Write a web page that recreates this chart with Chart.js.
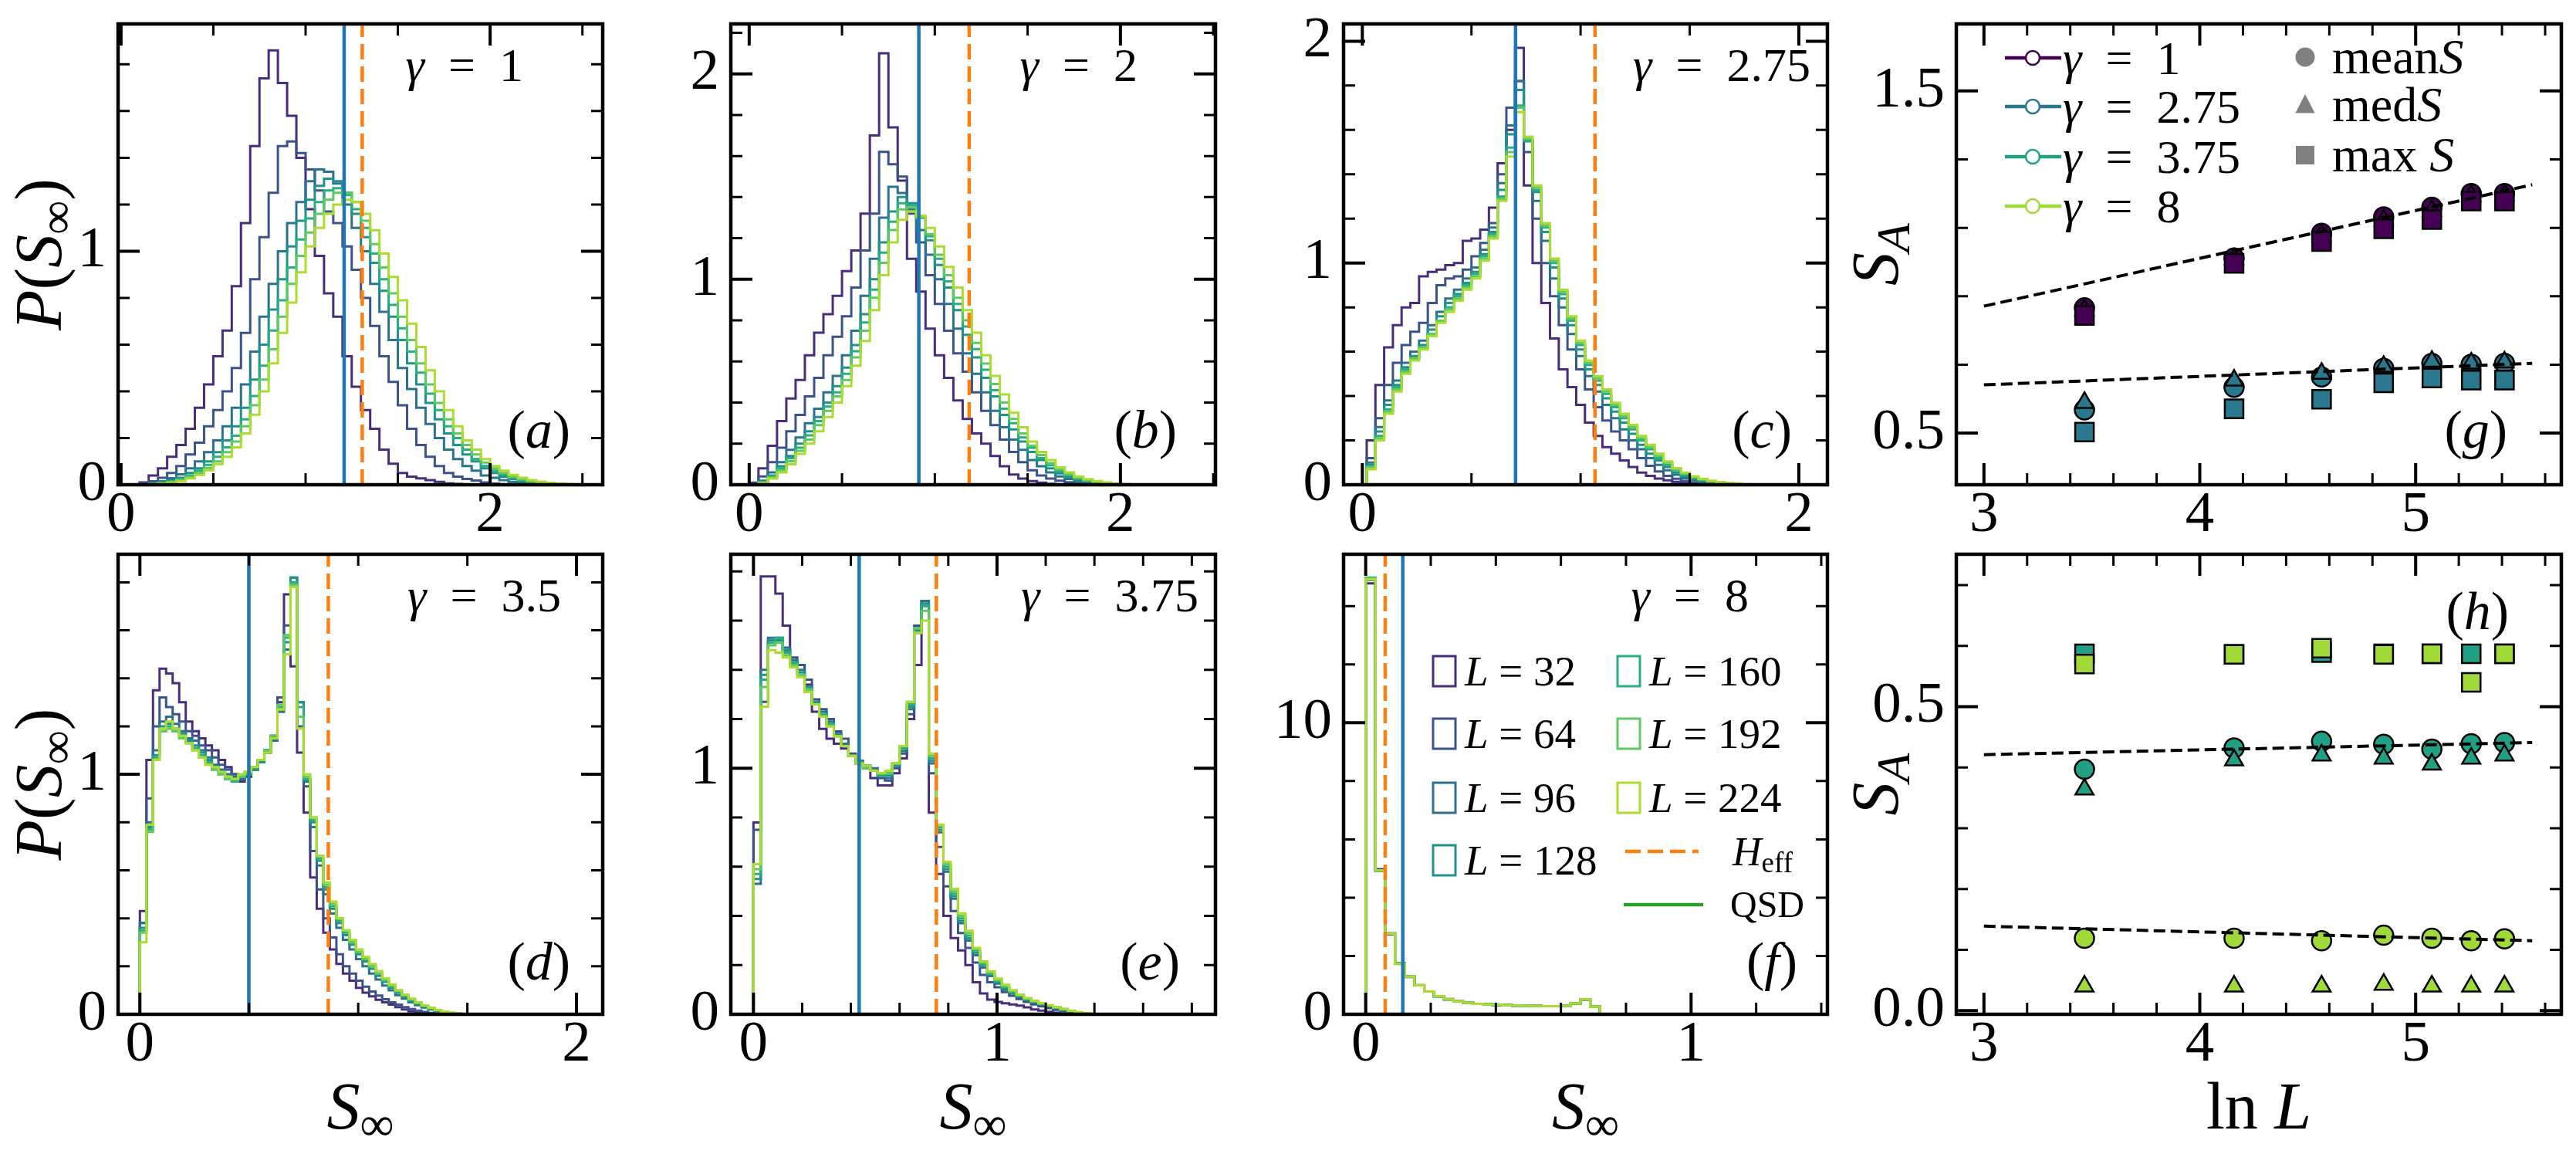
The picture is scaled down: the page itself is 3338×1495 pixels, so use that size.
<!DOCTYPE html>
<html>
<head>
<meta charset="utf-8">
<title>P(S_inf) histograms and S_A scaling</title>
<script src="https://cdn.jsdelivr.net/npm/chart.js@4.4.1/dist/chart.umd.min.js"></script>
<style>
  html, body { margin: 0; padding: 0; background: #fff; }
  #fig { position: relative; width: 3338px; height: 1495px; overflow: hidden; background: #fff; }
  #fig canvas { position: absolute; }
</style>
</head>
<body>
<div id="fig"></div>
<script>
// ---------- data ----------
const sizes = [32, 64, 96, 128, 160, 192, 224];
const gammas = ["1", "2", "2.75", "3.5", "3.75", "8"];

// histogram bins of panels (a)-(f): first edge and bin width
const histStart = [0.10, 0.00, 0.02, 0.00, 0.00, 0.00];
const histWidth = [0.05, 0.05, 0.04, 0.03, 0.03, 0.03];

// vertical markers in (a)-(f)
const blueLineX = [1.209, 0.914, 0.702, 0.499, 0.434, 0.114];
const heffLineX = [1.307, 1.185, 1.066, 0.863, 0.751, 0.060];

// P(S_inf), one row per L (32 ... 224)
const histA = [
  [0.01,0.04,0.07,0.12,0.17,0.24,0.33,0.43,0.55,0.66,0.85,1.12,1.45,1.74,1.86,1.72,1.58,1.40,1.18,0.98,0.82,0.72,0.55,0.42,0.32,0.24,0.15,0.09,0.05,0.035,0.027,0.02,0.012,0.006,0.003],
  [0.005,0.015,0.03,0.05,0.08,0.13,0.18,0.25,0.32,0.40,0.50,0.65,0.88,1.06,1.25,1.45,1.47,1.42,1.35,1.26,1.17,1.12,1.02,0.92,0.80,0.68,0.55,0.44,0.34,0.24,0.17,0.12,0.08,0.05,0.035,0.025,0.018,0.01,0.005],
  [0.003,0.008,0.015,0.028,0.045,0.07,0.10,0.14,0.19,0.25,0.33,0.43,0.57,0.72,0.86,1.00,1.12,1.21,1.30,1.35,1.34,1.29,1.20,1.10,1.00,0.86,0.74,0.62,0.50,0.41,0.33,0.26,0.20,0.15,0.11,0.08,0.06,0.04,0.03,0.02,0.012,0.007,0.004],
  [0.002,0.005,0.01,0.018,0.03,0.05,0.07,0.10,0.14,0.19,0.25,0.33,0.45,0.60,0.75,0.88,1.02,1.13,1.22,1.28,1.31,1.30,1.25,1.16,1.06,0.95,0.83,0.72,0.62,0.52,0.43,0.35,0.28,0.22,0.17,0.13,0.10,0.07,0.05,0.035,0.025,0.015,0.01,0.006,0.003],
  [0.001,0.004,0.008,0.014,0.024,0.04,0.06,0.085,0.12,0.16,0.21,0.28,0.38,0.51,0.66,0.79,0.93,1.05,1.14,1.21,1.26,1.27,1.24,1.18,1.10,0.99,0.88,0.77,0.67,0.57,0.48,0.39,0.32,0.25,0.20,0.15,0.11,0.08,0.06,0.045,0.03,0.02,0.013,0.008,0.005,0.002],
  [0.001,0.003,0.006,0.011,0.02,0.033,0.05,0.072,0.10,0.14,0.185,0.25,0.34,0.45,0.58,0.72,0.86,0.98,1.08,1.16,1.22,1.25,1.25,1.21,1.13,1.03,0.93,0.82,0.72,0.62,0.52,0.43,0.35,0.28,0.22,0.17,0.13,0.095,0.07,0.05,0.035,0.024,0.016,0.01,0.006,0.003,0.001],
  [0.001,0.002,0.005,0.009,0.016,0.027,0.042,0.062,0.088,0.12,0.16,0.22,0.30,0.40,0.52,0.65,0.78,0.91,1.02,1.10,1.16,1.20,1.22,1.21,1.16,1.09,0.99,0.89,0.79,0.69,0.59,0.49,0.40,0.32,0.25,0.19,0.15,0.11,0.08,0.06,0.042,0.03,0.02,0.013,0.008,0.005,0.003,0.001]
];
const histB = [
  [0.01,0.08,0.19,0.31,0.42,0.51,0.63,0.74,0.83,0.92,1.04,1.14,1.32,1.70,2.10,1.74,1.48,1.10,0.94,0.76,0.63,0.52,0.41,0.32,0.25,0.20,0.14,0.09,0.05,0.03,0.018,0.01,0.005,0.002],
  [0.005,0.04,0.11,0.18,0.26,0.34,0.43,0.52,0.63,0.72,0.82,0.96,1.14,1.32,1.62,1.56,1.50,1.32,1.18,1.02,0.88,0.75,0.64,0.55,0.45,0.36,0.29,0.22,0.16,0.11,0.07,0.045,0.03,0.02,0.012,0.007,0.004,0.002],
  [0.003,0.02,0.06,0.11,0.17,0.23,0.30,0.37,0.45,0.53,0.63,0.75,0.92,1.10,1.30,1.45,1.42,1.34,1.24,1.12,1.00,0.88,0.76,0.64,0.54,0.45,0.36,0.28,0.22,0.17,0.12,0.09,0.06,0.04,0.028,0.018,0.012,0.007,0.004,0.002],
  [0.002,0.015,0.045,0.09,0.14,0.20,0.26,0.33,0.40,0.48,0.57,0.68,0.83,1.00,1.18,1.33,1.40,1.37,1.30,1.19,1.07,0.96,0.85,0.73,0.62,0.52,0.43,0.34,0.27,0.21,0.16,0.12,0.08,0.055,0.038,0.025,0.016,0.01,0.006,0.003,0.001],
  [0.002,0.012,0.04,0.08,0.13,0.18,0.24,0.31,0.38,0.45,0.54,0.65,0.79,0.95,1.13,1.28,1.37,1.36,1.30,1.21,1.10,0.99,0.88,0.77,0.66,0.56,0.46,0.37,0.30,0.23,0.18,0.13,0.095,0.066,0.046,0.03,0.02,0.013,0.008,0.004,0.002],
  [0.001,0.01,0.035,0.07,0.115,0.165,0.22,0.29,0.36,0.43,0.51,0.62,0.75,0.91,1.08,1.24,1.34,1.35,1.30,1.22,1.12,1.02,0.91,0.80,0.69,0.59,0.49,0.40,0.32,0.25,0.19,0.145,0.105,0.075,0.052,0.035,0.023,0.015,0.009,0.005,0.003,0.001],
  [0.001,0.008,0.03,0.06,0.10,0.15,0.20,0.26,0.33,0.40,0.48,0.58,0.70,0.85,1.02,1.18,1.29,1.33,1.31,1.25,1.16,1.06,0.96,0.85,0.74,0.63,0.53,0.44,0.35,0.28,0.21,0.16,0.12,0.085,0.06,0.04,0.027,0.018,0.011,0.006,0.003,0.001]
];
const histC = [
  [0.20,0.45,0.62,0.72,0.80,0.82,0.94,0.96,0.97,0.99,1.00,1.10,1.11,1.15,1.25,1.45,1.60,1.97,1.35,1.00,0.82,0.66,0.52,0.44,0.36,0.28,0.22,0.17,0.14,0.11,0.08,0.055,0.04,0.028,0.02,0.013,0.008,0.004,0.002],
  [0.12,0.30,0.45,0.55,0.63,0.69,0.73,0.82,0.90,0.93,0.94,0.97,1.03,1.09,1.18,1.40,1.70,1.82,1.50,1.20,1.00,0.85,0.72,0.61,0.52,0.43,0.35,0.29,0.24,0.20,0.16,0.12,0.085,0.06,0.04,0.027,0.017,0.01,0.006,0.003],
  [0.10,0.26,0.38,0.47,0.55,0.60,0.65,0.72,0.78,0.84,0.88,0.93,0.98,1.06,1.16,1.36,1.62,1.82,1.55,1.28,1.10,0.93,0.80,0.68,0.58,0.49,0.42,0.36,0.30,0.25,0.20,0.16,0.12,0.09,0.065,0.045,0.03,0.02,0.013,0.008,0.005,0.002],
  [0.09,0.24,0.36,0.45,0.53,0.58,0.63,0.70,0.76,0.82,0.86,0.91,0.96,1.04,1.14,1.33,1.58,1.78,1.55,1.32,1.14,0.98,0.84,0.72,0.61,0.52,0.45,0.39,0.33,0.28,0.23,0.18,0.14,0.11,0.08,0.055,0.038,0.026,0.017,0.011,0.007,0.004,0.002],
  [0.08,0.22,0.34,0.44,0.52,0.57,0.62,0.68,0.74,0.80,0.85,0.90,0.95,1.03,1.13,1.30,1.52,1.71,1.55,1.33,1.16,1.00,0.86,0.74,0.63,0.54,0.47,0.41,0.35,0.30,0.25,0.20,0.16,0.12,0.09,0.065,0.045,0.032,0.022,0.015,0.01,0.006,0.004,0.002],
  [0.08,0.21,0.33,0.43,0.51,0.57,0.62,0.68,0.74,0.79,0.84,0.89,0.94,1.02,1.12,1.29,1.50,1.70,1.56,1.34,1.17,1.01,0.87,0.75,0.64,0.55,0.48,0.42,0.36,0.31,0.26,0.21,0.17,0.13,0.10,0.07,0.05,0.035,0.024,0.016,0.011,0.007,0.004,0.002],
  [0.07,0.20,0.32,0.42,0.50,0.56,0.61,0.67,0.73,0.78,0.83,0.88,0.93,1.01,1.11,1.28,1.48,1.68,1.57,1.35,1.18,1.02,0.88,0.76,0.65,0.56,0.49,0.43,0.37,0.32,0.27,0.22,0.18,0.14,0.105,0.075,0.055,0.038,0.026,0.018,0.012,0.008,0.005,0.003,0.001]
];
const histD = [
  [0.43,1.06,1.35,1.44,1.42,1.38,1.30,1.22,1.18,1.15,1.12,1.10,1.06,1.03,1.00,0.97,0.99,1.02,1.06,1.10,1.16,1.30,1.75,1.45,1.09,0.84,0.57,0.44,0.34,0.27,0.21,0.17,0.14,0.11,0.09,0.075,0.06,0.05,0.04,0.03,0.02,0.012,0.007,0.003],
  [0.38,0.90,1.20,1.32,1.28,1.25,1.22,1.18,1.16,1.12,1.10,1.07,1.04,1.02,1.00,0.98,1.00,1.03,1.05,1.10,1.16,1.32,1.62,1.78,1.20,0.95,0.68,0.52,0.40,0.32,0.25,0.20,0.17,0.14,0.115,0.095,0.078,0.063,0.05,0.04,0.03,0.022,0.015,0.01,0.006,0.003],
  [0.38,0.80,1.10,1.22,1.24,1.21,1.18,1.15,1.14,1.10,1.07,1.04,1.02,1.00,0.99,0.98,1.00,1.02,1.05,1.09,1.14,1.26,1.52,1.82,1.30,0.97,0.78,0.62,0.50,0.42,0.36,0.31,0.27,0.23,0.20,0.17,0.145,0.12,0.10,0.08,0.065,0.05,0.038,0.028,0.02,0.013,0.008,0.004,0.002],
  [0.36,0.78,1.08,1.20,1.21,1.19,1.17,1.14,1.12,1.09,1.06,1.03,1.01,0.99,0.98,0.99,1.00,1.02,1.05,1.09,1.15,1.27,1.55,1.82,1.30,0.98,0.80,0.64,0.52,0.44,0.38,0.33,0.29,0.25,0.22,0.19,0.16,0.135,0.11,0.09,0.072,0.056,0.043,0.032,0.023,0.015,0.009,0.005,0.002],
  [0.35,0.77,1.07,1.18,1.20,1.18,1.16,1.13,1.11,1.08,1.05,1.02,1.00,0.98,0.97,0.99,1.00,1.03,1.06,1.10,1.15,1.28,1.57,1.80,1.28,0.98,0.81,0.65,0.53,0.45,0.39,0.34,0.30,0.26,0.23,0.20,0.17,0.14,0.115,0.095,0.076,0.06,0.046,0.034,0.024,0.016,0.01,0.006,0.003],
  [0.34,0.76,1.06,1.18,1.19,1.18,1.15,1.13,1.10,1.07,1.04,1.02,1.00,0.98,0.98,0.99,1.01,1.03,1.06,1.10,1.16,1.29,1.58,1.79,1.24,0.99,0.82,0.66,0.54,0.46,0.40,0.35,0.30,0.26,0.23,0.20,0.17,0.145,0.12,0.10,0.08,0.063,0.048,0.036,0.026,0.018,0.011,0.006,0.003],
  [0.30,0.79,1.06,1.19,1.22,1.19,1.16,1.13,1.10,1.07,1.04,1.03,1.01,0.99,0.98,1.00,1.01,1.03,1.06,1.09,1.15,1.27,1.50,1.78,1.19,1.00,0.82,0.66,0.55,0.47,0.40,0.35,0.31,0.27,0.24,0.21,0.18,0.15,0.125,0.10,0.082,0.065,0.05,0.037,0.027,0.018,0.011,0.006,0.003]
];
const histE = [
  [0.78,1.78,1.78,1.71,1.58,1.43,1.42,1.34,1.23,1.16,1.12,1.10,1.08,1.05,1.02,1.00,0.96,0.93,0.93,0.98,1.04,1.20,1.42,1.68,0.82,0.57,0.40,0.31,0.26,0.20,0.13,0.085,0.06,0.05,0.045,0.04,0.035,0.028,0.02,0.015,0.01,0.006,0.003],
  [0.75,1.27,1.52,1.52,1.48,1.45,1.42,1.36,1.28,1.24,1.20,1.15,1.12,1.06,1.03,1.01,0.99,0.96,0.95,1.00,1.06,1.22,1.58,1.66,0.98,0.68,0.52,0.42,0.33,0.27,0.21,0.16,0.13,0.11,0.09,0.075,0.062,0.05,0.04,0.032,0.025,0.018,0.012,0.007,0.004],
  [0.53,1.40,1.53,1.53,1.49,1.44,1.40,1.33,1.27,1.23,1.19,1.14,1.10,1.05,1.02,1.00,1.00,0.97,0.96,1.01,1.07,1.24,1.55,1.68,1.02,0.74,0.58,0.47,0.37,0.30,0.24,0.19,0.155,0.125,0.10,0.085,0.07,0.058,0.048,0.04,0.032,0.025,0.018,0.011,0.006,0.003],
  [0.55,1.38,1.52,1.52,1.48,1.43,1.39,1.33,1.27,1.22,1.18,1.14,1.09,1.05,1.03,1.01,0.99,0.97,0.97,1.01,1.08,1.25,1.56,1.67,1.03,0.75,0.59,0.48,0.38,0.31,0.25,0.20,0.16,0.13,0.105,0.088,0.073,0.06,0.05,0.042,0.034,0.026,0.019,0.012,0.007,0.003],
  [0.57,1.36,1.51,1.53,1.47,1.43,1.38,1.32,1.26,1.22,1.18,1.13,1.09,1.05,1.02,1.00,0.99,0.97,0.98,1.02,1.08,1.26,1.57,1.66,1.04,0.76,0.60,0.49,0.39,0.32,0.26,0.205,0.165,0.135,0.11,0.09,0.075,0.062,0.052,0.043,0.035,0.027,0.02,0.013,0.007,0.004],
  [0.59,1.33,1.50,1.51,1.46,1.42,1.38,1.32,1.26,1.21,1.17,1.13,1.09,1.05,1.02,1.00,0.99,0.98,0.98,1.02,1.09,1.27,1.57,1.64,1.05,0.77,0.61,0.50,0.40,0.33,0.265,0.21,0.17,0.14,0.115,0.095,0.078,0.064,0.053,0.044,0.036,0.028,0.021,0.014,0.008,0.004],
  [0.61,1.25,1.48,1.47,1.45,1.41,1.37,1.31,1.26,1.21,1.17,1.13,1.09,1.05,1.02,1.01,0.99,0.98,0.99,1.02,1.09,1.27,1.55,1.60,1.06,0.77,0.62,0.51,0.41,0.34,0.27,0.215,0.175,0.145,0.12,0.098,0.08,0.066,0.055,0.045,0.037,0.029,0.022,0.015,0.009,0.005]
];
const histF = [
  [14.78,4.98,2.75,1.76,1.28,1.00,0.78,0.62,0.52,0.45,0.40,0.36,0.34,0.33,0.31,0.30,0.29,0.29,0.28,0.28,0.29,0.36,0.50,0.26],
  [14.90,4.95,2.76,1.75,1.29,0.99,0.78,0.62,0.51,0.44,0.39,0.36,0.34,0.33,0.31,0.30,0.29,0.29,0.28,0.28,0.29,0.37,0.51,0.26],
  [14.93,4.93,2.77,1.74,1.29,0.99,0.78,0.62,0.51,0.44,0.39,0.36,0.34,0.32,0.31,0.30,0.29,0.28,0.28,0.28,0.29,0.37,0.51,0.26],
  [14.96,4.92,2.77,1.74,1.29,0.99,0.78,0.61,0.51,0.44,0.39,0.36,0.34,0.32,0.31,0.30,0.29,0.28,0.28,0.28,0.29,0.37,0.51,0.26],
  [14.98,4.92,2.78,1.73,1.30,0.99,0.78,0.61,0.51,0.44,0.39,0.36,0.34,0.32,0.31,0.30,0.29,0.28,0.28,0.28,0.29,0.37,0.51,0.26],
  [14.95,4.93,2.78,1.74,1.30,0.99,0.78,0.62,0.51,0.44,0.39,0.36,0.34,0.33,0.31,0.30,0.29,0.28,0.28,0.28,0.29,0.37,0.51,0.26],
  [14.92,4.94,2.77,1.74,1.29,0.99,0.78,0.62,0.51,0.44,0.40,0.36,0.34,0.33,0.31,0.30,0.29,0.29,0.28,0.28,0.29,0.37,0.51,0.26]
];
const histAll = [histA, histB, histC, histD, histE, histF];

// (g), (h): S_A against ln L
const fitX = [3.0, 5.54];
const meanG1 = [0.866, 1.012, 1.084, 1.132, 1.160, 1.200, 1.200];
const medG1 = [0.860, 1.008, 1.077, 1.122, 1.150, 1.193, 1.195];
const maxG1 = [0.844, 0.996, 1.060, 1.097, 1.124, 1.178, 1.178];
const fitG1 = [0.871, 1.226];
const meanG275 = [0.568, 0.634, 0.664, 0.689, 0.704, 0.701, 0.704];
const medG275 = [0.589, 0.654, 0.674, 0.694, 0.709, 0.704, 0.707];
const maxG275 = [0.503, 0.571, 0.599, 0.647, 0.661, 0.655, 0.655];
const fitG275 = [0.641, 0.704];
const meanG375 = [0.397, 0.432, 0.443, 0.438, 0.430, 0.439, 0.441];
const medG375 = [0.364, 0.412, 0.420, 0.415, 0.405, 0.415, 0.420];
const maxG375 = [0.587, 0.586, 0.589, 0.587, 0.587, 0.587, 0.587];
const fitG375 = [0.421, 0.441];
const meanG8 = [0.119, 0.119, 0.115, 0.124, 0.119, 0.115, 0.118];
const medG8 = [0.040, 0.040, 0.040, 0.043, 0.040, 0.040, 0.040];
const maxG8 = [0.570, 0.586, 0.596, 0.586, 0.587, 0.540, 0.587];
const fitG8 = [0.139, 0.115];

// ---------- styles and layout ----------
const viridisL = ["#472d7b", "#3b528b", "#2c728e", "#21918c", "#28ae80", "#5ec962", "#addc30"];
const colG1 = "#440154", colG275 = "#2a788e", colG375 = "#22a085", colG8 = "#a0da39";
const FONT = '"Liberation Serif", "DejaVu Serif", serif';
const PAD = {l: 160, t: 70, r: 40, b: 185};
const TICK_PX = 75, AXIS_PX = 86, GAMMA_PX = 62, TAG_PX = 70;
const EQ = "\u2002=\u2002"; // wide math spacing around "="

// frame in page pixels [left, top, right, bottom], axis limits, labelled ticks, minor step
const layout = {
  a: {frame: [153, 31, 781, 628], x: [-0.016, 2.61], y: [0, 1.973], xt: [0, 2], yt: [0, 1], xm: 0.5, ym: 0.2},
  b: {frame: [947, 31, 1575, 628], x: [-0.099, 2.512], y: [0, 2.243], xt: [0, 2], yt: [0, 1, 2], xm: 0.5, ym: 0.2},
  c: {frame: [1741, 31, 2368, 628], x: [-0.086, 2.131], y: [0, 2.078], xt: [0, 2], yt: [0, 1, 2], xm: 0.5, ym: 0.2},
  g: {frame: [2535, 31, 3319, 628], x: [2.872, 5.675], y: [0.349, 1.696], xt: [3, 4, 5], yt: [0.5, 1.5], xm: 0.2, ym: 0.2},
  d: {frame: [153, 718, 781, 1314], x: [-0.10, 2.12], y: [0, 1.917], xt: [0, 2], yt: [0, 1], xm: 0.5, ym: 0.2},
  e: {frame: [947, 718, 1575, 1314], x: [-0.093, 1.897], y: [0, 1.87], xt: [0, 1], yt: [0, 1], xm: 0.2, ym: 0.2},
  f: {frame: [1741, 718, 2368, 1314], x: [-0.068, 1.419], y: [0, 15.78], xt: [0, 1], yt: [0, 10], xm: 0.2, ym: 2},
  h: {frame: [2535, 718, 3319, 1314], x: [2.872, 5.675], y: [-0.006, 0.7507], xt: [3, 4, 5], yt: [0, 0.5], xm: 0.2, ym: 0.1}
};
const gammaRight = [103, 101, 22, 54, 22, 102];
const tagRight = {a: 42, b: 50, c: 46, d: 42, e: 46, f: 39, g: 70, h: 68};

// rich text: segments [text, style], style r=roman i=italic sr/si=subscript
function drawRich(ctx, segs, x, y, size, align, rot) {
  const fontFor = st => (st.includes("i") ? "italic " : "") + Math.round(st[0] === "s" ? size * 0.72 : size) + "px " + FONT;
  ctx.save();
  ctx.translate(x, y);
  if (rot) ctx.rotate(rot);
  ctx.textAlign = "left";
  ctx.textBaseline = "alphabetic";
  ctx.fillStyle = "#000";
  let w = 0;
  segs.forEach(([t, st]) => { ctx.font = fontFor(st); w += ctx.measureText(t).width; });
  let cx = align === "right" ? -w : align === "center" ? -w / 2 : 0;
  segs.forEach(([t, st]) => {
    ctx.font = fontFor(st);
    ctx.fillText(t, cx, st[0] === "s" ? size * 0.17 : 0);
    cx += ctx.measureText(t).width;
  });
  ctx.restore();
}

function marker(ctx, style, x, y, r, fill, stroke, lw) {
  ctx.beginPath();
  if (style === "circle") ctx.arc(x, y, r, 0, Math.PI * 2);
  else if (style === "rect") ctx.rect(x - r, y - r, 2 * r, 2 * r);
  else { ctx.moveTo(x, y - r); ctx.lineTo(x + r * 0.9, y + r * 0.75); ctx.lineTo(x - r * 0.9, y + r * 0.75); ctx.closePath(); }
  ctx.fillStyle = fill;
  ctx.fill();
  if (stroke) { ctx.strokeStyle = stroke; ctx.lineWidth = lw; ctx.stroke(); }
}

// box with inward ticks on all four sides
function framePlugin(p) {
  return {
    id: "frame",
    afterDatasetsDraw(chart) {
      const {ctx, chartArea: a} = chart;
      ctx.save();
      ctx.strokeStyle = "#000";
      const marks = (scale, step, majors, horiz) => {
        const base = majors[0];
        const i0 = Math.ceil((scale.min - base) / step - 1e-6);
        for (let i = i0; base + i * step <= scale.max + 1e-9; i++) {
          const v = Math.round((base + i * step) * 1e6) / 1e6;
          const major = majors.some(m => Math.abs(m - v) < 1e-6);
          const len = major ? 28 : 15;
          const px = scale.getPixelForValue(v);
          ctx.lineWidth = major ? 4 : 3;
          ctx.beginPath();
          if (horiz) {
            ctx.moveTo(px, a.bottom); ctx.lineTo(px, a.bottom - len);
            ctx.moveTo(px, a.top); ctx.lineTo(px, a.top + len);
          } else {
            ctx.moveTo(a.left, px); ctx.lineTo(a.left + len, px);
            ctx.moveTo(a.right, px); ctx.lineTo(a.right - len, px);
          }
          ctx.stroke();
        }
      };
      marks(chart.scales.x, p.xm, p.xt, true);
      marks(chart.scales.y, p.ym, p.yt, false);
      ctx.lineWidth = 4.5;
      ctx.strokeRect(a.left, a.top, a.right - a.left, a.bottom - a.top);
      ctx.restore();
    }
  };
}

function makeChart(key, datasets, decor, yFmt) {
  const p = layout[key];
  const [L, T, R, B] = p.frame;
  const canvas = document.createElement("canvas");
  const w = R - L + PAD.l + PAD.r, h = B - T + PAD.t + PAD.b;
  canvas.width = w; canvas.height = h;
  canvas.style.left = (L - PAD.l) + "px";
  canvas.style.top = (T - PAD.t) + "px";
  canvas.style.width = w + "px";
  canvas.style.height = h + "px";
  document.getElementById("fig").appendChild(canvas);
  const axis = (lim, ticks, isX, fmt) => ({
    type: "linear", min: lim[0], max: lim[1],
    grid: {display: false, drawTicks: false},
    border: {display: false},
    afterBuildTicks: s => { s.ticks = ticks.map(v => ({value: v})); },
    afterFit: s => { if (isX) s.height = PAD.b; else s.width = PAD.l; },
    ticks: {
      font: {family: FONT, size: TICK_PX, lineHeight: 1}, color: "#000",
      padding: isX ? 3 : 15, maxRotation: 0, autoSkip: false,
      callback: fmt || (v => String(v))
    }
  });
  return new Chart(canvas, {
    type: "scatter",
    data: {datasets},
    options: {
      responsive: false, animation: false, devicePixelRatio: 1, events: [],
      layout: {padding: {top: PAD.t, right: PAD.r, left: 0, bottom: 0}},
      plugins: {legend: {display: false}, tooltip: {enabled: false}},
      scales: {x: axis(p.x, p.xt, true), y: axis(p.y, p.yt, false, yFmt)}
    },
    plugins: [framePlugin(p), {id: "decor", afterDraw: c => decor(c.ctx, c.chartArea)}]
  });
}

function stepSet(h, start, width, color) {
  const pts = [{x: start, y: 0}];
  h.forEach((v, j) => pts.push({x: start + j * width, y: v}));
  pts.push({x: start + h.length * width, y: 0});
  return {data: pts, showLine: true, stepped: true, pointRadius: 0, borderColor: color,
          borderWidth: 3, borderJoinStyle: "miter", fill: false};
}
function vline(x, ylim, color, dash) {
  return {data: [{x, y: ylim[0]}, {x, y: ylim[1]}], showLine: true, pointRadius: 0,
          borderColor: color, borderWidth: 4.5, borderDash: dash, fill: false};
}

const P_LABEL = [["P", "i"], ["(", "r"], ["S", "i"], ["\u221e", "sr"], [")", "r"]];
const S_LABEL = [["S", "i"], ["\u221e", "sr"]];
const SA_LABEL = [["S", "i"], ["A", "si"]];

function fLegend(ctx, a) {
  const rows = [151, 232, 315, 396];
  sizes.forEach((L, i) => {
    const col = i < 4 ? 0 : 1;
    const bx = a.left + (col ? 355 : 116), by = a.top + rows[col ? i - 4 : i];
    ctx.strokeStyle = viridisL[i];
    ctx.lineWidth = 3;
    ctx.strokeRect(bx, by - 19, 29, 39);
    drawRich(ctx, [["L", "i"], [" = " + L, "r"]], bx + 41, by + 19, 55, "left");
  });
  ctx.save();
  ctx.lineWidth = 4.5;
  ctx.strokeStyle = "#ff7f0e";
  ctx.setLineDash([20, 9]);
  ctx.beginPath(); ctx.moveTo(a.left + 365, a.top + 385); ctx.lineTo(a.left + 460, a.top + 385); ctx.stroke();
  ctx.setLineDash([]);
  ctx.strokeStyle = "#2ca02c";
  ctx.beginPath(); ctx.moveTo(a.left + 363, a.top + 454); ctx.lineTo(a.left + 466, a.top + 454); ctx.stroke();
  ctx.restore();
  drawRich(ctx, [["H", "i"], ["eff", "sr"]], a.left + 504, a.top + 403, 52, "left");
  drawRich(ctx, [["QSD", "r"]], a.left + 501, a.top + 470, 48, "left");
}

// ---------- histogram panels (a)-(f) ----------
["a", "b", "c", "d", "e", "f"].forEach((key, k) => {
  const p = layout[key];
  const sets = [vline(blueLineX[k], p.y, "#1f77b4", []), vline(heffLineX[k], p.y, "#ff7f0e", [20, 9])];
  for (let i = sizes.length - 1; i >= 0; i--) {
    sets.push(stepSet(histAll[k][i], histStart[k], histWidth[k], viridisL[i]));
  }
  makeChart(key, sets, (ctx, a) => {
    drawRich(ctx, [["\u03b3", "i"], [EQ + gammas[k], "r"]], a.right - gammaRight[k], a.top + 74, GAMMA_PX, "right");
    drawRich(ctx, [["(", "r"], [key, "i"], [")", "r"]], a.right - tagRight[key], a.top + (k < 3 ? 549 : 551), TAG_PX, "right");
    if (key === "a" || key === "d") drawRich(ctx, P_LABEL, a.left - 74, (a.top + a.bottom) / 2, AXIS_PX, "center", -Math.PI / 2);
    if (k >= 3) drawRich(ctx, S_LABEL, (a.left + a.right) / 2, a.bottom + 148, AXIS_PX, "center");
    if (key === "f") fLegend(ctx, a);
  });
});

// ---------- S_A panels (g), (h) ----------
const lnL = sizes.map(Math.log);
const pts = ys => lnL.map((x, i) => ({x, y: ys[i]}));
const mk = (ys, style, color) => ({
  data: pts(ys), showLine: false, pointStyle: style,
  pointRadius: style === "rect" ? 17 : style === "triangle" ? 13.5 : 12.5,
  backgroundColor: color, borderColor: "#000", borderWidth: 2.5
});
const fit = ys => ({data: fitX.map((x, i) => ({x, y: ys[i]})), showLine: true, pointRadius: 0,
                    borderColor: "#000", borderWidth: 4, borderDash: [15, 7], fill: false});
const fmt1 = v => Number(v).toFixed(1);

makeChart("g", [
  fit(fitG1), fit(fitG275),
  mk(maxG275, "rect", colG275), mk(medG275, "triangle", colG275), mk(meanG275, "circle", colG275),
  mk(maxG1, "rect", colG1), mk(medG1, "triangle", colG1), mk(meanG1, "circle", colG1)
], (ctx, a) => {
  const rows = [44, 107, 172, 236];
  const entries = [["1", colG1], ["2.75", colG275], ["3.75", colG375], ["8", colG8]];
  entries.forEach(([g, c], i) => {
    const y = a.top + rows[i];
    ctx.save();
    ctx.strokeStyle = c; ctx.lineWidth = 4.5;
    ctx.beginPath(); ctx.moveTo(a.left + 63, y); ctx.lineTo(a.left + 136, y); ctx.stroke();
    ctx.restore();
    marker(ctx, "circle", a.left + 99, y, 9, "#fff", c, 2.5);
    drawRich(ctx, [["\u03b3", "i"], [EQ + g, "r"]], a.left + 138, y + 21, GAMMA_PX, "left");
  });
  const rows2 = [43, 105, 170];
  const stats = [[["mean", "r"], ["S", "i"]], [["med", "r"], ["S", "i"]], [["max ", "r"], ["S", "i"]]];
  ["circle", "triangle", "rect"].forEach((st, i) => {
    const y = a.top + rows2[i];
    marker(ctx, st, a.left + 452, y, st === "rect" ? 12 : st === "triangle" ? 14 : 12.5, "#808080", null, 0);
    drawRich(ctx, stats[i], a.left + 487, y + 21, 64, "left");
  });
  drawRich(ctx, [["(", "r"], ["g", "i"], [")", "r"]], a.right - tagRight.g, a.top + 549, TAG_PX, "right");
  drawRich(ctx, SA_LABEL, a.left - 76, (a.top + a.bottom) / 2, AXIS_PX, "center", -Math.PI / 2);
}, fmt1);

makeChart("h", [
  fit(fitG375), fit(fitG8),
  mk(maxG8, "rect", colG8), mk(medG8, "triangle", colG8), mk(meanG8, "circle", colG8),
  mk(maxG375, "rect", colG375), mk(medG375, "triangle", colG375), mk(meanG375, "circle", colG375)
], (ctx, a) => {
  drawRich(ctx, [["(", "r"], ["h", "i"], [")", "r"]], a.right - tagRight.h, a.top + 97, TAG_PX, "right");
  drawRich(ctx, SA_LABEL, a.left - 76, (a.top + a.bottom) / 2, AXIS_PX, "center", -Math.PI / 2);
  drawRich(ctx, [["ln ", "r"], ["L", "i"]], (a.left + a.right) / 2, a.bottom + 148, AXIS_PX, "center");
}, fmt1);
</script>
</body>
</html>
